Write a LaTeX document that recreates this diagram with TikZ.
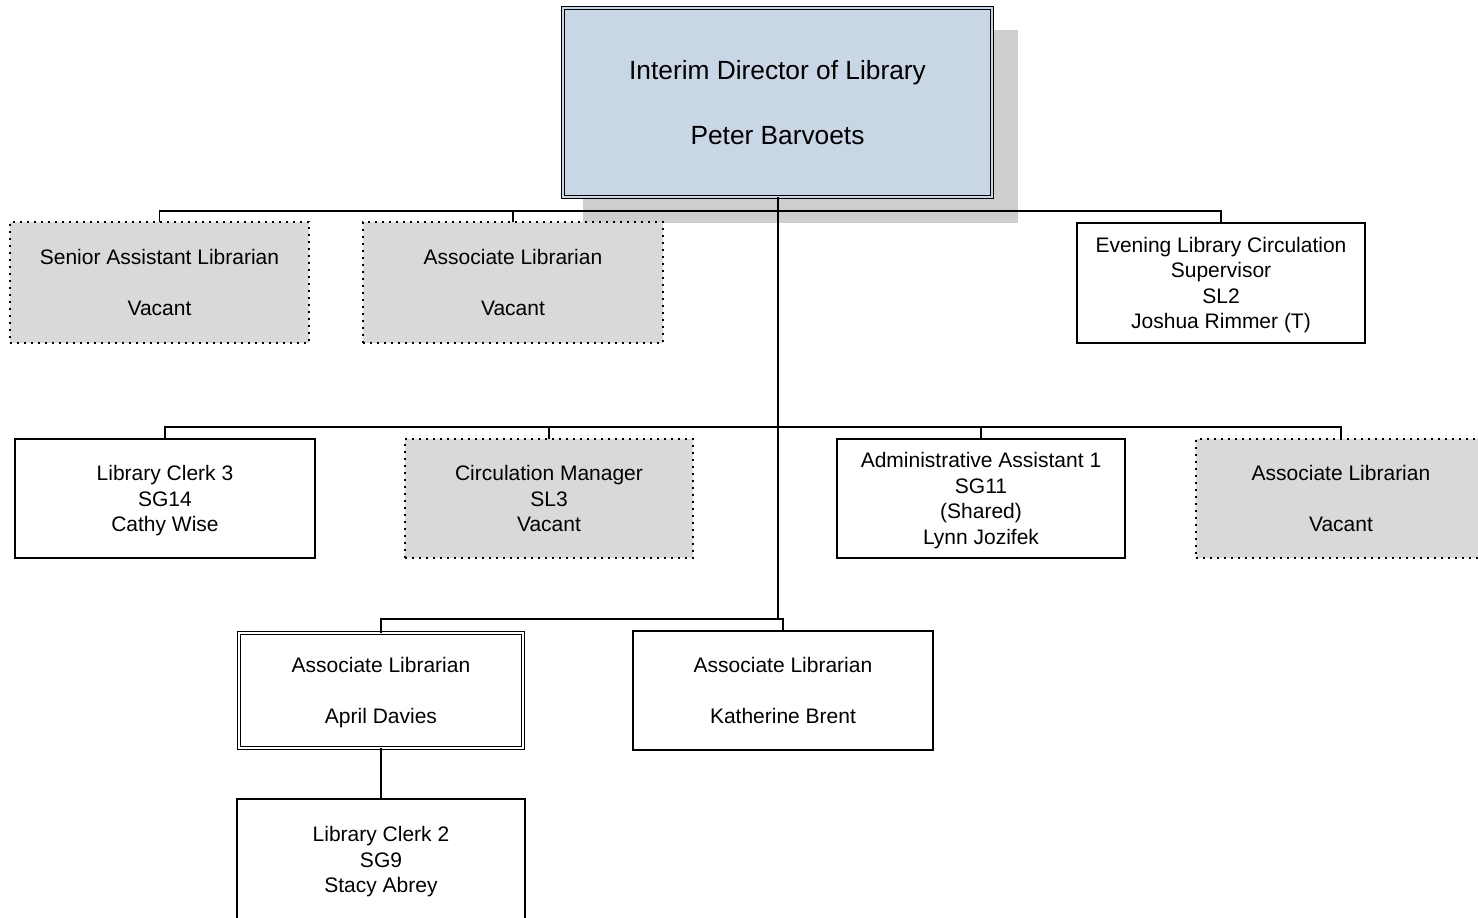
\documentclass[tikz,border=0pt]{standalone}
\usepackage{fontspec}
\setmainfont{Liberation Sans}
\definecolor{dirblue}{RGB}{201,214,230}
\definecolor{shadowgray}{RGB}{206,206,206}
\definecolor{vacgray}{RGB}{217,217,217}
\begin{document}
\begin{tikzpicture}[x=1pt,y=-1pt,
  every node/.style={inner sep=0pt, outer sep=0pt, align=center, text depth=0pt, font=\fontsize{21}{25.5}\selectfont},
  posbox/.style={draw=black, line width=1.4pt, fill=white},
  vacbox/.style={draw=black, line width=1.6pt, dash pattern=on 1.6pt off 5.4pt, fill=vacgray},
  dblbox/.style={draw=black, line width=1.2pt, double distance=2pt},
  conn/.style={draw=black, line width=1.5pt},
  mainconn/.style={draw=black, line width=2pt}]
\clip (0,0) rectangle (1478,918);
\fill[white] (0,0) rectangle (1478,918);
% shadow of director box
\fill[shadowgray] (583,30) rectangle (1018,223);
% nodes
\node[dblbox, double=dirblue, fill=dirblue, minimum width=428.6pt, minimum height=188.6pt,
  font=\fontsize{26.3}{32.5}\selectfont] (dir) at (777.5,102.5) {Interim Director of Library\\[32.5pt]Peter Barvoets};
\node[vacbox, minimum width=299pt, minimum height=121pt] (sen) at (159.5,282.5) {Senior Assistant Librarian\\[25.5pt]Vacant};
\node[vacbox, minimum width=300pt, minimum height=121pt] (av1) at (513,282.5) {Associate Librarian\\[25.5pt]Vacant};
\node[posbox, minimum width=288pt, minimum height=120pt] (eve) at (1221,283) {Evening Library Circulation\\Supervisor\\SL2\\Joshua Rimmer (T)};
\node[posbox, minimum width=300pt, minimum height=119pt] (lc3) at (165,498.5) {Library Clerk 3\\SG14\\Cathy Wise};
\node[vacbox, minimum width=288pt, minimum height=119pt] (cm) at (549,498.5) {Circulation Manager\\SL3\\Vacant};
\node[posbox, minimum width=288pt, minimum height=119pt] (adm) at (981,498.5) {Administrative Assistant 1\\SG11\\(Shared)\\Lynn Jozifek};
\node[vacbox, minimum width=290pt, minimum height=119pt] (av2) at (1341,498.5) {Associate Librarian\\[25.5pt]Vacant};
\node[dblbox, double=white, fill=white, minimum width=283.6pt, minimum height=114.6pt] (apr) at (381,690.5) {Associate Librarian\\[25.5pt]April Davies};
\node[posbox, minimum width=300pt, minimum height=119pt] (kat) at (783,690.5) {Associate Librarian\\[25.5pt]Katherine Brent};
\node[posbox, minimum width=288pt, minimum height=121pt] (lc2) at (381,859.5) {Library Clerk 2\\SG9\\Stacy Abrey};
% connectors
\draw[conn] (sen.north) -- (sen.north |- 0,211) -| (eve.north);
\draw[conn] (av1.north) -- (av1.north |- 0,211);
\draw[mainconn] (dir.south) -- (dir.south |- 0,619);
\draw[conn] (lc3.north) -- (lc3.north |- 0,427) -| (av2.north);
\draw[conn] (cm.north) -- (cm.north |- 0,427);
\draw[conn] (adm.north) -- (adm.north |- 0,427);
\draw[conn] (apr.north) -- (apr.north |- 0,619) -| (kat.north);
\draw[conn] (apr.south) -- (lc2.north);
\end{tikzpicture}
\end{document}
